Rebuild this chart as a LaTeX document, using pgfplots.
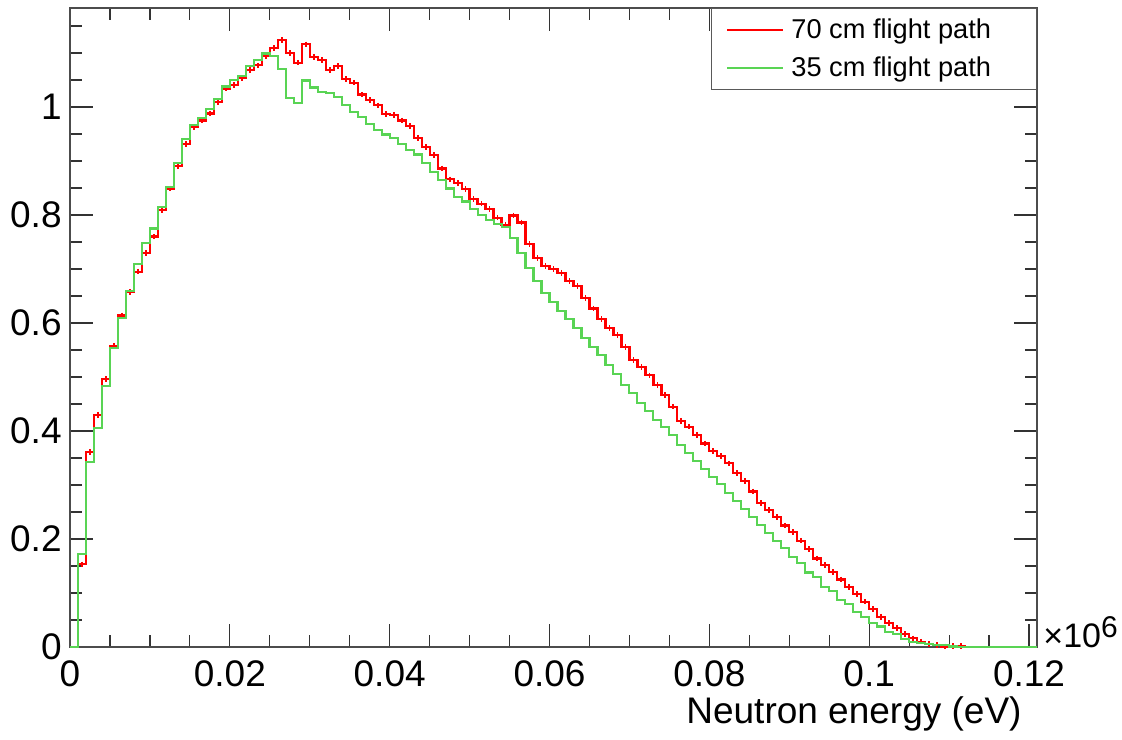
\documentclass[border=0pt]{standalone}
\usepackage{fontspec}
\setmainfont{Liberation Sans}
\usepackage{pgfplots}
\pgfplotsset{compat=1.18}
\usepackage{pgfplotstable}

\definecolor{rootred}{RGB}{255,0,0}
\definecolor{rootgreen}{RGB}{89,212,84}

% bin left edge (x1e6 eV), 70 cm and 35 cm flight path
\pgfplotstableread{
x r g
0.000 0 0
0.001 0.153 0.172
0.002 0.361 0.342
0.003 0.430 0.406
0.004 0.496 0.483
0.005 0.558 0.554
0.006 0.614 0.609
0.007 0.657 0.659
0.008 0.695 0.710
0.009 0.730 0.748
0.010 0.760 0.775
0.011 0.809 0.815
0.012 0.849 0.852
0.013 0.891 0.897
0.014 0.931 0.940
0.015 0.963 0.967
0.016 0.975 0.979
0.017 0.988 0.997
0.018 1.009 1.015
0.019 1.034 1.038
0.020 1.041 1.050
0.021 1.054 1.058
0.022 1.069 1.076
0.023 1.077 1.087
0.024 1.094 1.099
0.025 1.109 1.094
0.026 1.124 1.070
0.027 1.100 1.016
0.028 1.082 1.008
0.029 1.116 1.049
0.030 1.093 1.036
0.031 1.087 1.028
0.032 1.069 1.026
0.033 1.076 1.019
0.034 1.052 1.004
0.035 1.045 0.991
0.036 1.023 0.982
0.037 1.013 0.968
0.038 1.003 0.957
0.039 0.987 0.949
0.040 0.985 0.942
0.041 0.975 0.932
0.042 0.965 0.920
0.043 0.943 0.912
0.044 0.926 0.896
0.045 0.911 0.880
0.046 0.886 0.864
0.047 0.866 0.849
0.048 0.859 0.833
0.049 0.848 0.825
0.050 0.830 0.811
0.051 0.821 0.800
0.052 0.811 0.790
0.053 0.795 0.784
0.054 0.782 0.777
0.055 0.799 0.757
0.056 0.786 0.730
0.057 0.746 0.701
0.058 0.720 0.678
0.059 0.706 0.656
0.060 0.700 0.639
0.061 0.693 0.622
0.062 0.678 0.607
0.063 0.669 0.590
0.064 0.646 0.573
0.065 0.627 0.556
0.066 0.607 0.541
0.067 0.591 0.522
0.068 0.578 0.505
0.069 0.556 0.486
0.070 0.532 0.470
0.071 0.518 0.452
0.072 0.503 0.437
0.073 0.485 0.420
0.074 0.467 0.408
0.075 0.445 0.393
0.076 0.419 0.374
0.077 0.408 0.359
0.078 0.393 0.344
0.079 0.377 0.329
0.080 0.363 0.314
0.081 0.354 0.302
0.082 0.340 0.285
0.083 0.322 0.271
0.084 0.307 0.255
0.085 0.288 0.241
0.086 0.267 0.226
0.087 0.254 0.211
0.088 0.241 0.197
0.089 0.225 0.183
0.090 0.213 0.167
0.091 0.197 0.156
0.092 0.181 0.138
0.093 0.164 0.130
0.094 0.152 0.111
0.095 0.139 0.104
0.096 0.125 0.087
0.097 0.111 0.079
0.098 0.098 0.064
0.099 0.084 0.056
0.100 0.070 0.044
0.101 0.056 0.038
0.102 0.044 0.028
0.103 0.035 0.024
0.104 0.024 0.015
0.105 0.016 0.010
0.106 0.010 0.007
0.107 0.006 0.006
0.108 0.004 0.004
0.109 0.001 0.003
0.110 0.002 0.001
0.111 0.002 0
0.112 0 0
0.113 0 0
0.114 0 0
0.115 0 0
0.116 0 0
0.117 0 0
0.118 0 0
0.119 0 0
0.120 0 0
0.121 0 0
}\spectra

\begin{document}
\begin{tikzpicture}
\path[use as bounding box] (-35pt,-46pt) rectangle (526pt,323.5pt);
\begin{axis}[
  scale only axis, width=483.5pt, height=319.5pt,
  xmin=0, xmax=0.121, ymin=0, ymax=1.1833,
  clip mode=individual,
  axis line style={black!70, line width=0.75pt},
  tick style={black!80, line width=0.6pt},
  tick align=inside, xtick pos=both, ytick pos=both,
  major tick length=11.5pt, minor tick length=6pt,
  xtick={0,0.02,0.04,0.06,0.08,0.1,0.12},
  xticklabels={0,0.02,0.04,0.06,0.08,0.1,0.12},
  minor xtick={0.005,0.01,0.015,0.025,0.03,0.035,0.045,0.05,0.055,0.065,0.07,0.075,0.085,0.09,0.095,0.105,0.11,0.115},
  ytick={0,0.2,0.4,0.6,0.8,1},
  yticklabels={0,0.2,0.4,0.6,0.8,1},
  minor ytick={0.05,0.1,0.15,0.25,0.3,0.35,0.45,0.5,0.55,0.65,0.7,0.75,0.85,0.9,0.95,1.05,1.1,1.15},
  tick label style={font=\fontsize{18.5pt}{22pt}\selectfont},
  /pgf/number format/assume math mode=true,
  xticklabel style={inner sep=0pt, yshift=-6.5pt},
  yticklabel style={inner sep=0pt, xshift=-4pt},
  xlabel={Neutron energy (eV)},
  xlabel style={at={(rel axis cs:1,0)}, anchor=base east, yshift=-38pt, xshift=-7.5pt,
    inner sep=0pt, font=\fontsize{18.5pt}{22pt}\selectfont},
  legend style={at={(rel axis cs:1,1)}, anchor=north east, draw=black!65, line width=0.6pt,
    fill=white, inner xsep=2pt, inner ysep=1pt, row sep=0pt,
    font=\fontsize{13.6pt}{16pt}\selectfont, nodes={inner ysep=3.9pt, inner xsep=3.5pt}},
  legend cell align=left,
  legend image code/.code={\path (-5.5pt,0pt); \draw[#1] (0pt,0pt) -- (28pt,0pt);},
]
\addplot[const plot, rootred, line width=1.1pt] table[x=x, y=r] {\spectra};
\addlegendentry{\makebox[117pt][l]{70 cm flight path}}
\addplot[rootred, only marks, mark=|, mark size=1.4pt, mark options={line width=0.9pt},
  forget plot, restrict x to domain=0.0009:0.112] table[x expr=\thisrow{x}+0.0005, y=r] {\spectra};
\addplot[const plot, rootgreen, line width=1.05pt] table[x=x, y=g] {\spectra};
\addlegendentry{\makebox[117pt][l]{35 cm flight path}}
\node[anchor=base west, inner sep=0pt, font=\fontsize{17pt}{20pt}\selectfont]
  at (rel axis cs:1,0) [xshift=3pt] {×10\raisebox{5pt}{\fontsize{15pt}{17pt}\selectfont 6}};
\end{axis}
\end{tikzpicture}
\end{document}
